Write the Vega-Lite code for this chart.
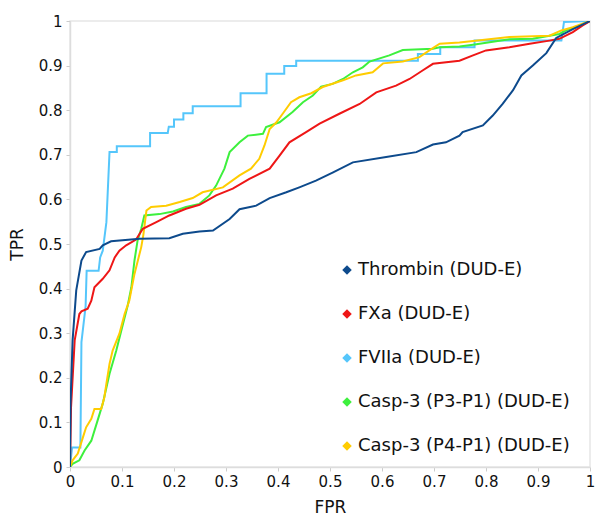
{
  "$schema": "https://vega.github.io/schema/vega-lite/v6.json",
  "autosize": {"type": "none"},
  "padding": {"left": 70, "top": 21, "right": 6, "bottom": 49},
  "width": 520,
  "height": 446,
  "config": {
    "font": "DejaVu Sans",
    "view": {"stroke": "#e6e6e6", "strokeWidth": 1.5},
    "axis": {"grid": false, "domainColor": "#dddddd", "domainWidth": 1.5, "tickColor": "#cccccc", "tickSize": 4, "labelFontSize": 15, "labelColor": "#111111", "titleFontSize": 17, "titleFontWeight": "normal", "titleColor": "#111111"}
  },
  "data": {"values": [
    {"s":"FVIIa (DUD-E)","i":0,"x":0,"y":0},{"s":"FVIIa (DUD-E)","i":1,"x":0.004,"y":0.044},{"s":"FVIIa (DUD-E)","i":2,"x":0.02,"y":0.044},{"s":"FVIIa (DUD-E)","i":3,"x":0.022,"y":0.28},{"s":"FVIIa (DUD-E)","i":4,"x":0.03,"y":0.36},{"s":"FVIIa (DUD-E)","i":5,"x":0.032,"y":0.44},{"s":"FVIIa (DUD-E)","i":6,"x":0.055,"y":0.44},{"s":"FVIIa (DUD-E)","i":7,"x":0.058,"y":0.47},{"s":"FVIIa (DUD-E)","i":8,"x":0.063,"y":0.485},{"s":"FVIIa (DUD-E)","i":9,"x":0.07,"y":0.549},{"s":"FVIIa (DUD-E)","i":10,"x":0.076,"y":0.706},{"s":"FVIIa (DUD-E)","i":11,"x":0.09,"y":0.706},{"s":"FVIIa (DUD-E)","i":12,"x":0.09,"y":0.719},{"s":"FVIIa (DUD-E)","i":13,"x":0.154,"y":0.719},{"s":"FVIIa (DUD-E)","i":14,"x":0.154,"y":0.749},{"s":"FVIIa (DUD-E)","i":15,"x":0.188,"y":0.749},{"s":"FVIIa (DUD-E)","i":16,"x":0.19,"y":0.763},{"s":"FVIIa (DUD-E)","i":17,"x":0.2,"y":0.763},{"s":"FVIIa (DUD-E)","i":18,"x":0.2,"y":0.779},{"s":"FVIIa (DUD-E)","i":19,"x":0.218,"y":0.779},{"s":"FVIIa (DUD-E)","i":20,"x":0.218,"y":0.793},{"s":"FVIIa (DUD-E)","i":21,"x":0.236,"y":0.793},{"s":"FVIIa (DUD-E)","i":22,"x":0.236,"y":0.809},{"s":"FVIIa (DUD-E)","i":23,"x":0.328,"y":0.809},{"s":"FVIIa (DUD-E)","i":24,"x":0.328,"y":0.838},{"s":"FVIIa (DUD-E)","i":25,"x":0.378,"y":0.838},{"s":"FVIIa (DUD-E)","i":26,"x":0.378,"y":0.882},{"s":"FVIIa (DUD-E)","i":27,"x":0.412,"y":0.882},{"s":"FVIIa (DUD-E)","i":28,"x":0.412,"y":0.899},{"s":"FVIIa (DUD-E)","i":29,"x":0.435,"y":0.899},{"s":"FVIIa (DUD-E)","i":30,"x":0.435,"y":0.911},{"s":"FVIIa (DUD-E)","i":31,"x":0.669,"y":0.911},{"s":"FVIIa (DUD-E)","i":32,"x":0.669,"y":0.926},{"s":"FVIIa (DUD-E)","i":33,"x":0.712,"y":0.926},{"s":"FVIIa (DUD-E)","i":34,"x":0.712,"y":0.941},{"s":"FVIIa (DUD-E)","i":35,"x":0.778,"y":0.941},{"s":"FVIIa (DUD-E)","i":36,"x":0.778,"y":0.956},{"s":"FVIIa (DUD-E)","i":37,"x":0.945,"y":0.956},{"s":"FVIIa (DUD-E)","i":38,"x":0.95,"y":0.998},{"s":"FVIIa (DUD-E)","i":39,"x":1,"y":1},

    {"s":"Casp-3 (P3-P1) (DUD-E)","i":0,"x":0,"y":0},{"s":"Casp-3 (P3-P1) (DUD-E)","i":1,"x":0.005,"y":0.007},{"s":"Casp-3 (P3-P1) (DUD-E)","i":2,"x":0.018,"y":0.015},{"s":"Casp-3 (P3-P1) (DUD-E)","i":3,"x":0.028,"y":0.037},{"s":"Casp-3 (P3-P1) (DUD-E)","i":4,"x":0.041,"y":0.059},{"s":"Casp-3 (P3-P1) (DUD-E)","i":5,"x":0.053,"y":0.104},{"s":"Casp-3 (P3-P1) (DUD-E)","i":6,"x":0.063,"y":0.142},{"s":"Casp-3 (P3-P1) (DUD-E)","i":7,"x":0.076,"y":0.209},{"s":"Casp-3 (P3-P1) (DUD-E)","i":8,"x":0.089,"y":0.261},{"s":"Casp-3 (P3-P1) (DUD-E)","i":9,"x":0.102,"y":0.321},{"s":"Casp-3 (P3-P1) (DUD-E)","i":10,"x":0.111,"y":0.362},{"s":"Casp-3 (P3-P1) (DUD-E)","i":11,"x":0.118,"y":0.403},{"s":"Casp-3 (P3-P1) (DUD-E)","i":12,"x":0.124,"y":0.463},{"s":"Casp-3 (P3-P1) (DUD-E)","i":13,"x":0.13,"y":0.508},{"s":"Casp-3 (P3-P1) (DUD-E)","i":14,"x":0.137,"y":0.534},{"s":"Casp-3 (P3-P1) (DUD-E)","i":15,"x":0.143,"y":0.564},{"s":"Casp-3 (P3-P1) (DUD-E)","i":16,"x":0.172,"y":0.567},{"s":"Casp-3 (P3-P1) (DUD-E)","i":17,"x":0.198,"y":0.573},{"s":"Casp-3 (P3-P1) (DUD-E)","i":18,"x":0.223,"y":0.583},{"s":"Casp-3 (P3-P1) (DUD-E)","i":19,"x":0.249,"y":0.59},{"s":"Casp-3 (P3-P1) (DUD-E)","i":20,"x":0.268,"y":0.609},{"s":"Casp-3 (P3-P1) (DUD-E)","i":21,"x":0.281,"y":0.631},{"s":"Casp-3 (P3-P1) (DUD-E)","i":22,"x":0.297,"y":0.669},{"s":"Casp-3 (P3-P1) (DUD-E)","i":23,"x":0.307,"y":0.706},{"s":"Casp-3 (P3-P1) (DUD-E)","i":24,"x":0.326,"y":0.728},{"s":"Casp-3 (P3-P1) (DUD-E)","i":25,"x":0.342,"y":0.743},{"s":"Casp-3 (P3-P1) (DUD-E)","i":26,"x":0.371,"y":0.747},{"s":"Casp-3 (P3-P1) (DUD-E)","i":27,"x":0.377,"y":0.762},{"s":"Casp-3 (P3-P1) (DUD-E)","i":28,"x":0.403,"y":0.773},{"s":"Casp-3 (P3-P1) (DUD-E)","i":29,"x":0.428,"y":0.796},{"s":"Casp-3 (P3-P1) (DUD-E)","i":30,"x":0.448,"y":0.818},{"s":"Casp-3 (P3-P1) (DUD-E)","i":31,"x":0.467,"y":0.833},{"s":"Casp-3 (P3-P1) (DUD-E)","i":32,"x":0.483,"y":0.853},{"s":"Casp-3 (P3-P1) (DUD-E)","i":33,"x":0.505,"y":0.859},{"s":"Casp-3 (P3-P1) (DUD-E)","i":34,"x":0.525,"y":0.87},{"s":"Casp-3 (P3-P1) (DUD-E)","i":35,"x":0.544,"y":0.885},{"s":"Casp-3 (P3-P1) (DUD-E)","i":36,"x":0.563,"y":0.896},{"s":"Casp-3 (P3-P1) (DUD-E)","i":37,"x":0.576,"y":0.909},{"s":"Casp-3 (P3-P1) (DUD-E)","i":38,"x":0.614,"y":0.923},{"s":"Casp-3 (P3-P1) (DUD-E)","i":39,"x":0.64,"y":0.935},{"s":"Casp-3 (P3-P1) (DUD-E)","i":40,"x":0.698,"y":0.938},{"s":"Casp-3 (P3-P1) (DUD-E)","i":41,"x":0.711,"y":0.941},{"s":"Casp-3 (P3-P1) (DUD-E)","i":42,"x":0.749,"y":0.943},{"s":"Casp-3 (P3-P1) (DUD-E)","i":43,"x":0.775,"y":0.947},{"s":"Casp-3 (P3-P1) (DUD-E)","i":44,"x":0.845,"y":0.959},{"s":"Casp-3 (P3-P1) (DUD-E)","i":45,"x":0.89,"y":0.96},{"s":"Casp-3 (P3-P1) (DUD-E)","i":46,"x":0.941,"y":0.971},{"s":"Casp-3 (P3-P1) (DUD-E)","i":47,"x":0.954,"y":0.979},{"s":"Casp-3 (P3-P1) (DUD-E)","i":48,"x":0.98,"y":0.99},{"s":"Casp-3 (P3-P1) (DUD-E)","i":49,"x":1,"y":1},

    {"s":"Casp-3 (P4-P1) (DUD-E)","i":0,"x":0,"y":0},{"s":"Casp-3 (P4-P1) (DUD-E)","i":1,"x":0.005,"y":0.015},{"s":"Casp-3 (P4-P1) (DUD-E)","i":2,"x":0.015,"y":0.03},{"s":"Casp-3 (P4-P1) (DUD-E)","i":3,"x":0.025,"y":0.067},{"s":"Casp-3 (P4-P1) (DUD-E)","i":4,"x":0.031,"y":0.089},{"s":"Casp-3 (P4-P1) (DUD-E)","i":5,"x":0.041,"y":0.108},{"s":"Casp-3 (P4-P1) (DUD-E)","i":6,"x":0.047,"y":0.13},{"s":"Casp-3 (P4-P1) (DUD-E)","i":7,"x":0.06,"y":0.13},{"s":"Casp-3 (P4-P1) (DUD-E)","i":8,"x":0.066,"y":0.156},{"s":"Casp-3 (P4-P1) (DUD-E)","i":9,"x":0.07,"y":0.187},{"s":"Casp-3 (P4-P1) (DUD-E)","i":10,"x":0.076,"y":0.231},{"s":"Casp-3 (P4-P1) (DUD-E)","i":11,"x":0.082,"y":0.261},{"s":"Casp-3 (P4-P1) (DUD-E)","i":12,"x":0.095,"y":0.299},{"s":"Casp-3 (P4-P1) (DUD-E)","i":13,"x":0.105,"y":0.343},{"s":"Casp-3 (P4-P1) (DUD-E)","i":14,"x":0.114,"y":0.373},{"s":"Casp-3 (P4-P1) (DUD-E)","i":15,"x":0.124,"y":0.433},{"s":"Casp-3 (P4-P1) (DUD-E)","i":16,"x":0.137,"y":0.493},{"s":"Casp-3 (P4-P1) (DUD-E)","i":17,"x":0.141,"y":0.52},{"s":"Casp-3 (P4-P1) (DUD-E)","i":18,"x":0.147,"y":0.575},{"s":"Casp-3 (P4-P1) (DUD-E)","i":19,"x":0.156,"y":0.583},{"s":"Casp-3 (P4-P1) (DUD-E)","i":20,"x":0.185,"y":0.586},{"s":"Casp-3 (P4-P1) (DUD-E)","i":21,"x":0.211,"y":0.594},{"s":"Casp-3 (P4-P1) (DUD-E)","i":22,"x":0.236,"y":0.603},{"s":"Casp-3 (P4-P1) (DUD-E)","i":23,"x":0.255,"y":0.616},{"s":"Casp-3 (P4-P1) (DUD-E)","i":24,"x":0.294,"y":0.627},{"s":"Casp-3 (P4-P1) (DUD-E)","i":25,"x":0.326,"y":0.654},{"s":"Casp-3 (P4-P1) (DUD-E)","i":26,"x":0.348,"y":0.669},{"s":"Casp-3 (P4-P1) (DUD-E)","i":27,"x":0.364,"y":0.691},{"s":"Casp-3 (P4-P1) (DUD-E)","i":28,"x":0.374,"y":0.721},{"s":"Casp-3 (P4-P1) (DUD-E)","i":29,"x":0.384,"y":0.758},{"s":"Casp-3 (P4-P1) (DUD-E)","i":30,"x":0.397,"y":0.773},{"s":"Casp-3 (P4-P1) (DUD-E)","i":31,"x":0.409,"y":0.792},{"s":"Casp-3 (P4-P1) (DUD-E)","i":32,"x":0.425,"y":0.818},{"s":"Casp-3 (P4-P1) (DUD-E)","i":33,"x":0.441,"y":0.829},{"s":"Casp-3 (P4-P1) (DUD-E)","i":34,"x":0.464,"y":0.838},{"s":"Casp-3 (P4-P1) (DUD-E)","i":35,"x":0.486,"y":0.852},{"s":"Casp-3 (P4-P1) (DUD-E)","i":36,"x":0.525,"y":0.867},{"s":"Casp-3 (P4-P1) (DUD-E)","i":37,"x":0.55,"y":0.878},{"s":"Casp-3 (P4-P1) (DUD-E)","i":38,"x":0.582,"y":0.885},{"s":"Casp-3 (P4-P1) (DUD-E)","i":39,"x":0.602,"y":0.905},{"s":"Casp-3 (P4-P1) (DUD-E)","i":40,"x":0.64,"y":0.909},{"s":"Casp-3 (P4-P1) (DUD-E)","i":41,"x":0.672,"y":0.919},{"s":"Casp-3 (P4-P1) (DUD-E)","i":42,"x":0.691,"y":0.934},{"s":"Casp-3 (P4-P1) (DUD-E)","i":43,"x":0.711,"y":0.949},{"s":"Casp-3 (P4-P1) (DUD-E)","i":44,"x":0.749,"y":0.952},{"s":"Casp-3 (P4-P1) (DUD-E)","i":45,"x":0.845,"y":0.964},{"s":"Casp-3 (P4-P1) (DUD-E)","i":46,"x":0.922,"y":0.967},{"s":"Casp-3 (P4-P1) (DUD-E)","i":47,"x":0.945,"y":0.979},{"s":"Casp-3 (P4-P1) (DUD-E)","i":48,"x":0.967,"y":0.986},{"s":"Casp-3 (P4-P1) (DUD-E)","i":49,"x":1,"y":1},

    {"s":"FXa (DUD-E)","i":0,"x":0,"y":0},{"s":"FXa (DUD-E)","i":1,"x":0.002,"y":0.134},{"s":"FXa (DUD-E)","i":2,"x":0.009,"y":0.284},{"s":"FXa (DUD-E)","i":3,"x":0.018,"y":0.343},{"s":"FXa (DUD-E)","i":4,"x":0.022,"y":0.349},{"s":"FXa (DUD-E)","i":5,"x":0.034,"y":0.355},{"s":"FXa (DUD-E)","i":6,"x":0.041,"y":0.373},{"s":"FXa (DUD-E)","i":7,"x":0.047,"y":0.403},{"s":"FXa (DUD-E)","i":8,"x":0.063,"y":0.422},{"s":"FXa (DUD-E)","i":9,"x":0.076,"y":0.441},{"s":"FXa (DUD-E)","i":10,"x":0.086,"y":0.47},{"s":"FXa (DUD-E)","i":11,"x":0.095,"y":0.485},{"s":"FXa (DUD-E)","i":12,"x":0.108,"y":0.497},{"s":"FXa (DUD-E)","i":13,"x":0.127,"y":0.51},{"s":"FXa (DUD-E)","i":14,"x":0.14,"y":0.534},{"s":"FXa (DUD-E)","i":15,"x":0.166,"y":0.549},{"s":"FXa (DUD-E)","i":16,"x":0.191,"y":0.564},{"s":"FXa (DUD-E)","i":17,"x":0.223,"y":0.579},{"s":"FXa (DUD-E)","i":18,"x":0.249,"y":0.588},{"s":"FXa (DUD-E)","i":19,"x":0.281,"y":0.609},{"s":"FXa (DUD-E)","i":20,"x":0.313,"y":0.624},{"s":"FXa (DUD-E)","i":21,"x":0.345,"y":0.646},{"s":"FXa (DUD-E)","i":22,"x":0.384,"y":0.669},{"s":"FXa (DUD-E)","i":23,"x":0.403,"y":0.698},{"s":"FXa (DUD-E)","i":24,"x":0.422,"y":0.728},{"s":"FXa (DUD-E)","i":25,"x":0.454,"y":0.751},{"s":"FXa (DUD-E)","i":26,"x":0.48,"y":0.77},{"s":"FXa (DUD-E)","i":27,"x":0.518,"y":0.792},{"s":"FXa (DUD-E)","i":28,"x":0.557,"y":0.814},{"s":"FXa (DUD-E)","i":29,"x":0.589,"y":0.84},{"s":"FXa (DUD-E)","i":30,"x":0.627,"y":0.855},{"s":"FXa (DUD-E)","i":31,"x":0.653,"y":0.87},{"s":"FXa (DUD-E)","i":32,"x":0.678,"y":0.889},{"s":"FXa (DUD-E)","i":33,"x":0.698,"y":0.904},{"s":"FXa (DUD-E)","i":34,"x":0.749,"y":0.911},{"s":"FXa (DUD-E)","i":35,"x":0.775,"y":0.923},{"s":"FXa (DUD-E)","i":36,"x":0.8,"y":0.934},{"s":"FXa (DUD-E)","i":37,"x":0.845,"y":0.941},{"s":"FXa (DUD-E)","i":38,"x":0.884,"y":0.949},{"s":"FXa (DUD-E)","i":39,"x":0.922,"y":0.956},{"s":"FXa (DUD-E)","i":40,"x":0.941,"y":0.96},{"s":"FXa (DUD-E)","i":41,"x":0.967,"y":0.975},{"s":"FXa (DUD-E)","i":42,"x":0.986,"y":0.99},{"s":"FXa (DUD-E)","i":43,"x":1,"y":1},

    {"s":"Thrombin (DUD-E)","i":0,"x":0,"y":0},{"s":"Thrombin (DUD-E)","i":1,"x":0.001,"y":0.142},{"s":"Thrombin (DUD-E)","i":2,"x":0.005,"y":0.284},{"s":"Thrombin (DUD-E)","i":3,"x":0.012,"y":0.396},{"s":"Thrombin (DUD-E)","i":4,"x":0.022,"y":0.463},{"s":"Thrombin (DUD-E)","i":5,"x":0.031,"y":0.482},{"s":"Thrombin (DUD-E)","i":6,"x":0.057,"y":0.489},{"s":"Thrombin (DUD-E)","i":7,"x":0.063,"y":0.497},{"s":"Thrombin (DUD-E)","i":8,"x":0.079,"y":0.506},{"s":"Thrombin (DUD-E)","i":9,"x":0.134,"y":0.512},{"s":"Thrombin (DUD-E)","i":10,"x":0.191,"y":0.513},{"s":"Thrombin (DUD-E)","i":11,"x":0.217,"y":0.523},{"s":"Thrombin (DUD-E)","i":12,"x":0.249,"y":0.528},{"s":"Thrombin (DUD-E)","i":13,"x":0.275,"y":0.53},{"s":"Thrombin (DUD-E)","i":14,"x":0.307,"y":0.556},{"s":"Thrombin (DUD-E)","i":15,"x":0.326,"y":0.578},{"s":"Thrombin (DUD-E)","i":16,"x":0.358,"y":0.586},{"s":"Thrombin (DUD-E)","i":17,"x":0.384,"y":0.603},{"s":"Thrombin (DUD-E)","i":18,"x":0.416,"y":0.616},{"s":"Thrombin (DUD-E)","i":19,"x":0.441,"y":0.627},{"s":"Thrombin (DUD-E)","i":20,"x":0.473,"y":0.642},{"s":"Thrombin (DUD-E)","i":21,"x":0.505,"y":0.66},{"s":"Thrombin (DUD-E)","i":22,"x":0.544,"y":0.683},{"s":"Thrombin (DUD-E)","i":23,"x":0.608,"y":0.695},{"s":"Thrombin (DUD-E)","i":24,"x":0.666,"y":0.706},{"s":"Thrombin (DUD-E)","i":25,"x":0.698,"y":0.723},{"s":"Thrombin (DUD-E)","i":26,"x":0.723,"y":0.728},{"s":"Thrombin (DUD-E)","i":27,"x":0.749,"y":0.743},{"s":"Thrombin (DUD-E)","i":28,"x":0.755,"y":0.751},{"s":"Thrombin (DUD-E)","i":29,"x":0.794,"y":0.766},{"s":"Thrombin (DUD-E)","i":30,"x":0.813,"y":0.788},{"s":"Thrombin (DUD-E)","i":31,"x":0.832,"y":0.814},{"s":"Thrombin (DUD-E)","i":32,"x":0.852,"y":0.845},{"s":"Thrombin (DUD-E)","i":33,"x":0.868,"y":0.878},{"s":"Thrombin (DUD-E)","i":34,"x":0.89,"y":0.9},{"s":"Thrombin (DUD-E)","i":35,"x":0.916,"y":0.928},{"s":"Thrombin (DUD-E)","i":36,"x":0.935,"y":0.962},{"s":"Thrombin (DUD-E)","i":37,"x":0.967,"y":0.982},{"s":"Thrombin (DUD-E)","i":38,"x":1,"y":1}
  ]},
  "mark": {"type": "line", "strokeWidth": 2, "clip": true},
  "encoding": {
    "x": {"field": "x", "type": "quantitative", "title": "FPR", "scale": {"domain": [0, 1], "nice": false},
      "axis": {"values": [0,0.1,0.2,0.3,0.4,0.5,0.6,0.7,0.8,0.9,1], "format": "~g", "labelPadding": 3, "titlePadding": 10, "labelFlush": false}},
    "y": {"field": "y", "type": "quantitative", "title": "TPR", "scale": {"domain": [0, 1], "nice": false},
      "axis": {"values": [0,0.1,0.2,0.3,0.4,0.5,0.6,0.7,0.8,0.9,1], "format": "~g", "labelPadding": 4, "titlePadding": 12, "labelFlush": false}},
    "order": {"field": "i", "type": "quantitative"},
    "color": {"field": "s", "type": "nominal",
      "scale": {"domain": ["Thrombin (DUD-E)", "FXa (DUD-E)", "FVIIa (DUD-E)", "Casp-3 (P3-P1) (DUD-E)", "Casp-3 (P4-P1) (DUD-E)"],
                "range": ["#0d4a8c", "#ee1616", "#55c6fb", "#3df03d", "#ffcc00"]},
      "legend": {"title": null, "orient": "none", "legendX": 268, "legendY": 240, "symbolType": "diamond", "symbolSize": 90, "symbolStrokeWidth": 0, "labelFontSize": 18, "labelColor": "#111111", "rowPadding": 26, "labelOffset": 2, "labelLimit": 300,
        "encode": {"symbols": {"update": {"fill": {"scale": "color", "field": "value"}, "fillOpacity": {"value": 1}}}}}}
  }
}
